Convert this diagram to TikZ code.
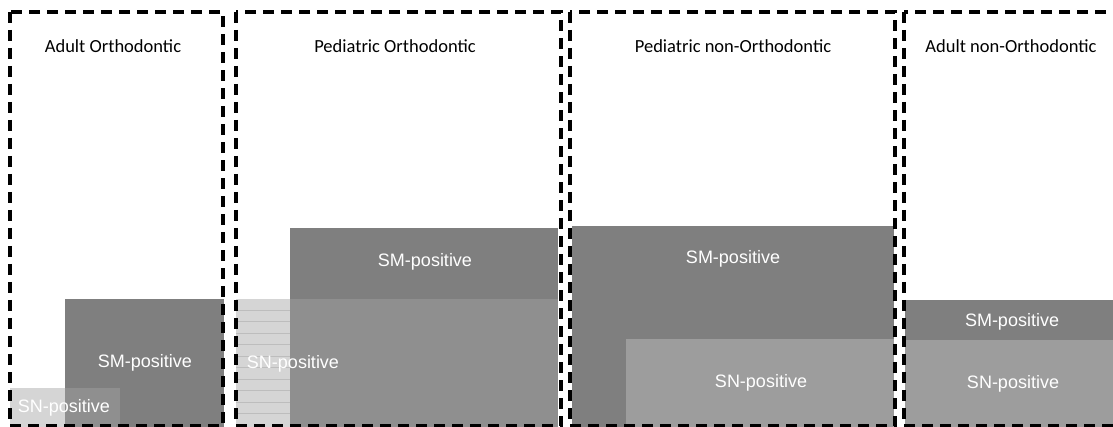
\documentclass[tikz,border=0pt]{standalone}
\usepackage{fontspec}
\setmainfont{Liberation Sans}
\newfontfamily\titlefont{Carlito}
\begin{document}
\begin{tikzpicture}[x=1pt,y=-1pt,
  groupbox/.style={draw=black,line width=3.2pt,dash pattern=on 11pt off 7pt},
  title/.style={font=\titlefont\fontsize{18.5}{22}\selectfont,text=black,anchor=center,inner sep=0pt},
  lbl/.style={font=\fontsize{18}{21}\selectfont,text=white,anchor=center,inner sep=0pt}]
\definecolor{smgray}{HTML}{7F7F7F}
\definecolor{ovgray}{HTML}{8F8F8F}
\definecolor{sngray}{HTML}{9D9D9D}
\definecolor{ltgray}{HTML}{D5D5D5}
\definecolor{hatchgray}{HTML}{BDBDBD}
\useasboundingbox (0,0) rectangle (1113,427);
\clip (0,0) rectangle (1113,427);
\fill[white] (0,0) rectangle (1113,427);
% Adult Orthodontic
\fill[smgray] (65,299) rectangle (224,430);
\fill[ltgray] (10,388) rectangle (65,430);
\fill[ovgray] (65,388) rectangle (120,430);
% Pediatric Orthodontic
\fill[smgray] (290,228) rectangle (558,299);
\fill[ovgray] (290,299) rectangle (558,430);
\fill[ltgray] (236,299) rectangle (290,430);
\foreach \yy in {310,321.5,333,344.5,356,367.5,379,390.5,402,413.5}
  \draw[hatchgray,line width=0.8pt] (236,\yy) -- (290,\yy);
% Pediatric non-Orthodontic
\fill[smgray] (572,226) rectangle (894,430);
\fill[sngray] (626,339) rectangle (894,430);
% Adult non-Orthodontic
\fill[smgray] (905,300) rectangle (1120,340);
\fill[sngray] (905,340) rectangle (1120,430);
% labels
\node[lbl] (l1) at (145,363) {SM-positive};
\node[lbl] (l2) at (64,408) {SN-positive};
\node[lbl] (l3) at (425,262) {SM-positive};
\node[lbl] (l4) at (293,364) {SN-positive};
\node[lbl] (l5) at (733,259) {SM-positive};
\node[lbl] (l6) at (761,383) {SN-positive};
\node[lbl] (l7) at (1012,322) {SM-positive};
\node[lbl] (l8) at (1013,384) {SN-positive};
% titles
\node[title] (t1) at (113,46) {Adult Orthodontic};
\node[title] (t2) at (395,46) {Pediatric Orthodontic};
\node[title] (t3) at (733,46) {Pediatric non-Orthodontic};
\node[title] (t4) at (1011,46) {Adult non-Orthodontic};
% group boxes
\draw[groupbox] (10,12) rectangle (223,426);
\draw[groupbox] (236,12) rectangle (561,426);
\draw[groupbox] (570,12) rectangle (895,426);
\draw[groupbox] (904,12) rectangle (1140,426);
\end{tikzpicture}
\end{document}
